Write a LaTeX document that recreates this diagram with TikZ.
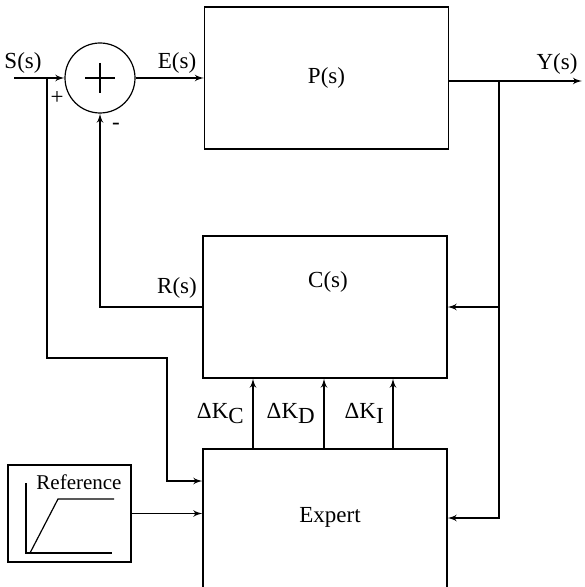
\documentclass[tikz,border=0pt]{standalone}
\usepackage{fontspec}
\setmainfont{Liberation Serif}
\usetikzlibrary{arrows, positioning}

\begin{document}
\begin{tikzpicture}[x=0.5pt, y=-0.5pt, line width=0.6pt, font=\fontsize{11.5}{13}\selectfont]
    \tikzstyle{block} = [rectangle, draw, minimum width=122pt, minimum height=71pt, inner sep=0pt]
    \tikzstyle{line} = [draw, -latex']
    \tikzstyle{sig} = [inner sep=1pt]

    \clip (0,0) rectangle (584,587);

    \node [block] (plant) at (326.5,78) {P(s)};
    \node [block] (ctrl) at (325,307) {};
    \node [block] (expert) at (325,520) {};
    \node [draw, circle, minimum size=35pt, inner sep=0pt] (sum) at (100,78) {};
    \node [draw, minimum width=61.5pt, minimum height=48.5pt] (ref) at (69.5,513.5) {};

    \node at (328,282) {C(s)};
    \node at (330,517) {Expert};
    \node [sig, font=\fontsize{10.5}{12}\selectfont] (reftext) at (79,482) {Reference};

    % cross in the summing point
    \draw (sum.center) +(-15,0) -- +(15,0);
    \draw (sum.center) +(0,-15) -- +(0,15);

    % ramp in the reference box
    \draw (26,483) -- (26,553) -- (112,553);
    \draw (30,553) -- (58,499) -- (114,499);

    \coordinate (sin) at (14,78);
    \coordinate (split) at (47,78);
    \coordinate (sdown) at (167,358);
    \coordinate (yout) at (582,81);
    \coordinate (ysplit) at (499,81);

    \node [sig] (slabel) at (23,63) {S(s)};
    \node [sig] (elabel) at (177,63) {E(s)};
    \node [sig] (ylabel) at (557,64) {Y(s)};
    \node [sig] (rlabel) at (177,288) {R(s)};
    \node [sig] (plus) at (57,98) {+};
    \node [sig] (minus) at (116,126) {-};

    \path [line] (sin) -- (sum.west);
    \path [line] (sum.east) -- (sum.east -| plant.west);
    \path [line] (plant.east |- yout) -- (yout);
    \path [line] (split) |- (sdown) |- ([yshift=19.5pt]expert.west);
    \path [line] (ref.east) -- (ref.east -| expert.west);
    \path [line] (ysplit) |- ([yshift=1pt]expert.east);
    \path [line] (ysplit |- ctrl.east) -- (ctrl.east);
    \path [line] (ctrl.west) -| (sum.south);

    \foreach \dx/\kk in {-36/C, -0.5/D, 34/I}
        \path [line] ([xshift=\dx pt]expert.north) -- node [left=1pt] {ΔK\raisebox{-0.5ex}{\kk}} ([xshift=\dx pt]ctrl.south);
\end{tikzpicture}
\end{document}
